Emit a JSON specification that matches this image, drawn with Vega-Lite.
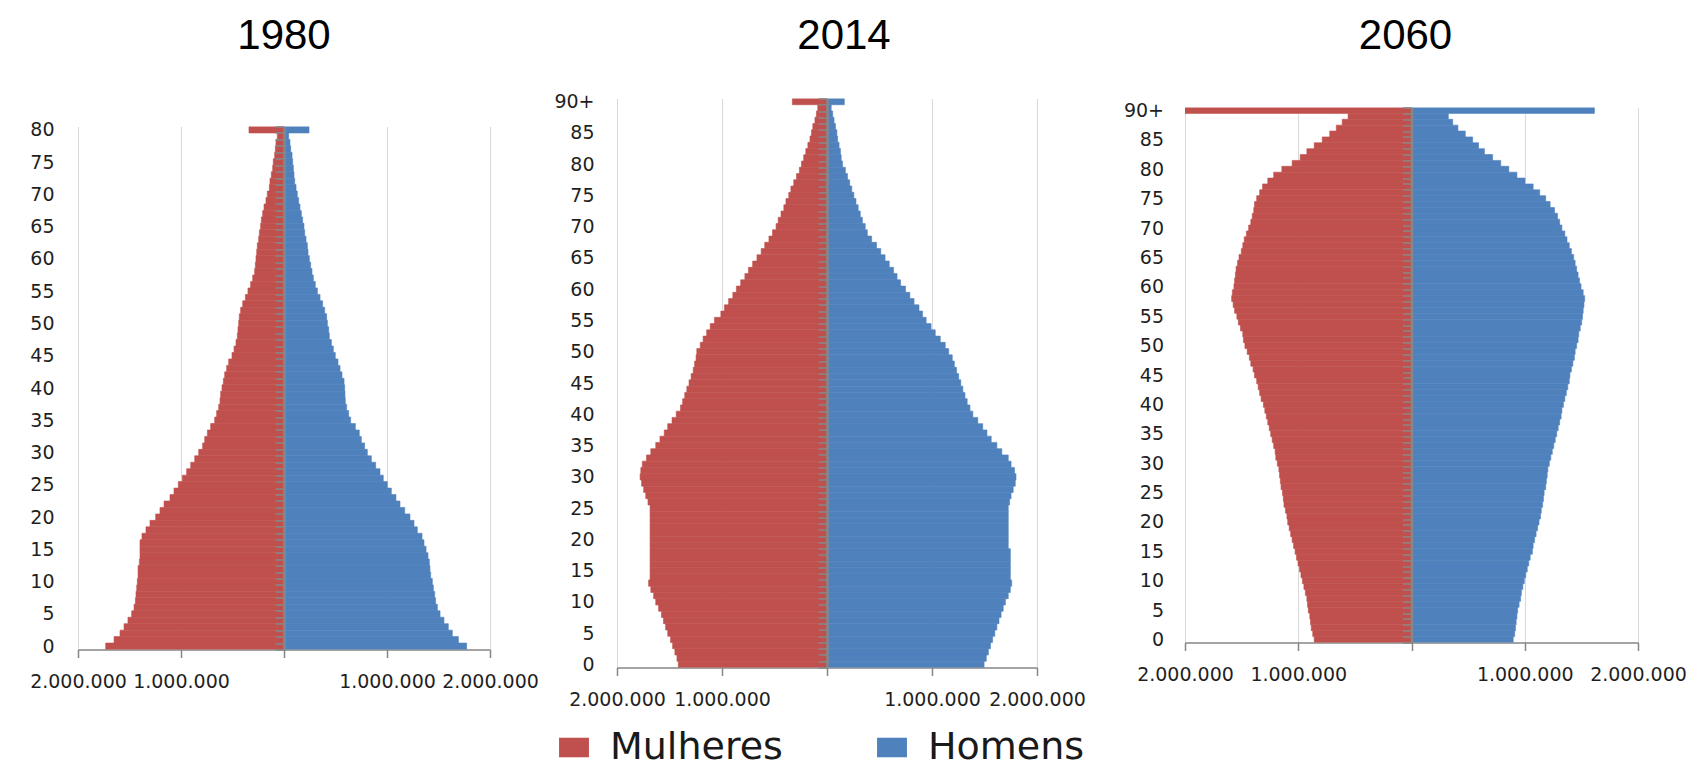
{
  "$schema": "https://vega.github.io/schema/vega-lite/v6.json",
  "background": "white",
  "padding": {"left": 29, "top": 14.5, "right": 0, "bottom": 0},
  "autosize": {"type": "pad"},
  "config": {
    "view": {"stroke": null},
    "axis": {"labelFont": "DejaVu Sans", "labelFontSize": 19, "labelColor": "#1f1f1f", "title": null},
    "title": {"font": "Liberation Sans", "fontSize": 42, "fontWeight": "normal", "color": "#000000", "anchor": "middle", "frame": "group", "baseline": "alphabetic", "offset": 7},
    "locale": {"number": {"decimal": ",", "thousands": ".", "grouping": [3], "currency": ["R$", ""]}}
  },
  "data": {"values": [
    {"year":1980,"age":0,"Mulheres":-1731000,"Homens":1773000},
    {"year":1980,"age":1,"Mulheres":-1650000,"Homens":1693000},
    {"year":1980,"age":2,"Mulheres":-1592000,"Homens":1634000},
    {"year":1980,"age":3,"Mulheres":-1553000,"Homens":1595000},
    {"year":1980,"age":4,"Mulheres":-1515000,"Homens":1553000},
    {"year":1980,"age":5,"Mulheres":-1479000,"Homens":1515000},
    {"year":1980,"age":6,"Mulheres":-1456000,"Homens":1489000},
    {"year":1980,"age":7,"Mulheres":-1443000,"Homens":1472000},
    {"year":1980,"age":8,"Mulheres":-1437000,"Homens":1463000},
    {"year":1980,"age":9,"Mulheres":-1430000,"Homens":1450000},
    {"year":1980,"age":10,"Mulheres":-1424000,"Homens":1440000},
    {"year":1980,"age":11,"Mulheres":-1417000,"Homens":1424000},
    {"year":1980,"age":12,"Mulheres":-1417000,"Homens":1417000},
    {"year":1980,"age":13,"Mulheres":-1404000,"Homens":1411000},
    {"year":1980,"age":14,"Mulheres":-1398000,"Homens":1398000},
    {"year":1980,"age":15,"Mulheres":-1398000,"Homens":1379000},
    {"year":1980,"age":16,"Mulheres":-1398000,"Homens":1359000},
    {"year":1980,"age":17,"Mulheres":-1379000,"Homens":1340000},
    {"year":1980,"age":18,"Mulheres":-1340000,"Homens":1294000},
    {"year":1980,"age":19,"Mulheres":-1301000,"Homens":1262000},
    {"year":1980,"age":20,"Mulheres":-1246000,"Homens":1223000},
    {"year":1980,"age":21,"Mulheres":-1204000,"Homens":1172000},
    {"year":1980,"age":22,"Mulheres":-1165000,"Homens":1126000},
    {"year":1980,"age":23,"Mulheres":-1107000,"Homens":1087000},
    {"year":1980,"age":24,"Mulheres":-1068000,"Homens":1042000},
    {"year":1980,"age":25,"Mulheres":-1026000,"Homens":1003000},
    {"year":1980,"age":26,"Mulheres":-987000,"Homens":964000},
    {"year":1980,"age":27,"Mulheres":-945000,"Homens":932000},
    {"year":1980,"age":28,"Mulheres":-906000,"Homens":890000},
    {"year":1980,"age":29,"Mulheres":-867000,"Homens":848000},
    {"year":1980,"age":30,"Mulheres":-828000,"Homens":809000},
    {"year":1980,"age":31,"Mulheres":-790000,"Homens":783000},
    {"year":1980,"age":32,"Mulheres":-770000,"Homens":751000},
    {"year":1980,"age":33,"Mulheres":-744000,"Homens":731000},
    {"year":1980,"age":34,"Mulheres":-712000,"Homens":693000},
    {"year":1980,"age":35,"Mulheres":-673000,"Homens":647000},
    {"year":1980,"age":36,"Mulheres":-654000,"Homens":628000},
    {"year":1980,"age":37,"Mulheres":-634000,"Homens":608000},
    {"year":1980,"age":38,"Mulheres":-621000,"Homens":595000},
    {"year":1980,"age":39,"Mulheres":-615000,"Homens":592000},
    {"year":1980,"age":40,"Mulheres":-602000,"Homens":589000},
    {"year":1980,"age":41,"Mulheres":-589000,"Homens":583000},
    {"year":1980,"age":42,"Mulheres":-576000,"Homens":563000},
    {"year":1980,"age":43,"Mulheres":-557000,"Homens":544000},
    {"year":1980,"age":44,"Mulheres":-537000,"Homens":524000},
    {"year":1980,"age":45,"Mulheres":-505000,"Homens":498000},
    {"year":1980,"age":46,"Mulheres":-485000,"Homens":479000},
    {"year":1980,"age":47,"Mulheres":-466000,"Homens":460000},
    {"year":1980,"age":48,"Mulheres":-453000,"Homens":440000},
    {"year":1980,"age":49,"Mulheres":-447000,"Homens":434000},
    {"year":1980,"age":50,"Mulheres":-440000,"Homens":421000},
    {"year":1980,"age":51,"Mulheres":-434000,"Homens":414000},
    {"year":1980,"age":52,"Mulheres":-421000,"Homens":395000},
    {"year":1980,"age":53,"Mulheres":-401000,"Homens":375000},
    {"year":1980,"age":54,"Mulheres":-375000,"Homens":350000},
    {"year":1980,"age":55,"Mulheres":-350000,"Homens":324000},
    {"year":1980,"age":56,"Mulheres":-324000,"Homens":304000},
    {"year":1980,"age":57,"Mulheres":-304000,"Homens":285000},
    {"year":1980,"age":58,"Mulheres":-285000,"Homens":272000},
    {"year":1980,"age":59,"Mulheres":-278000,"Homens":259000},
    {"year":1980,"age":60,"Mulheres":-272000,"Homens":246000},
    {"year":1980,"age":61,"Mulheres":-265000,"Homens":233000},
    {"year":1980,"age":62,"Mulheres":-259000,"Homens":227000},
    {"year":1980,"age":63,"Mulheres":-246000,"Homens":214000},
    {"year":1980,"age":64,"Mulheres":-239000,"Homens":201000},
    {"year":1980,"age":65,"Mulheres":-227000,"Homens":194000},
    {"year":1980,"age":66,"Mulheres":-220000,"Homens":181000},
    {"year":1980,"age":67,"Mulheres":-207000,"Homens":168000},
    {"year":1980,"age":68,"Mulheres":-194000,"Homens":155000},
    {"year":1980,"age":69,"Mulheres":-175000,"Homens":142000},
    {"year":1980,"age":70,"Mulheres":-162000,"Homens":129000},
    {"year":1980,"age":71,"Mulheres":-142000,"Homens":117000},
    {"year":1980,"age":72,"Mulheres":-136000,"Homens":104000},
    {"year":1980,"age":73,"Mulheres":-123000,"Homens":97000},
    {"year":1980,"age":74,"Mulheres":-110000,"Homens":91000},
    {"year":1980,"age":75,"Mulheres":-104000,"Homens":84000},
    {"year":1980,"age":76,"Mulheres":-91000,"Homens":78000},
    {"year":1980,"age":77,"Mulheres":-84000,"Homens":65000},
    {"year":1980,"age":78,"Mulheres":-78000,"Homens":58000},
    {"year":1980,"age":79,"Mulheres":-65000,"Homens":45000},
    {"year":1980,"age":80,"Mulheres":-340000,"Homens":243000},
    {"year":2014,"age":0,"Mulheres":-1416000,"Homens":1496000},
    {"year":2014,"age":1,"Mulheres":-1429000,"Homens":1517000},
    {"year":2014,"age":2,"Mulheres":-1449000,"Homens":1537000},
    {"year":2014,"age":3,"Mulheres":-1470000,"Homens":1557000},
    {"year":2014,"age":4,"Mulheres":-1490000,"Homens":1577000},
    {"year":2014,"age":5,"Mulheres":-1517000,"Homens":1598000},
    {"year":2014,"age":6,"Mulheres":-1537000,"Homens":1618000},
    {"year":2014,"age":7,"Mulheres":-1557000,"Homens":1638000},
    {"year":2014,"age":8,"Mulheres":-1577000,"Homens":1658000},
    {"year":2014,"age":9,"Mulheres":-1604000,"Homens":1678000},
    {"year":2014,"age":10,"Mulheres":-1631000,"Homens":1699000},
    {"year":2014,"age":11,"Mulheres":-1651000,"Homens":1726000},
    {"year":2014,"age":12,"Mulheres":-1678000,"Homens":1746000},
    {"year":2014,"age":13,"Mulheres":-1699000,"Homens":1759000},
    {"year":2014,"age":14,"Mulheres":-1685000,"Homens":1746000},
    {"year":2014,"age":15,"Mulheres":-1685000,"Homens":1746000},
    {"year":2014,"age":16,"Mulheres":-1685000,"Homens":1746000},
    {"year":2014,"age":17,"Mulheres":-1685000,"Homens":1746000},
    {"year":2014,"age":18,"Mulheres":-1685000,"Homens":1746000},
    {"year":2014,"age":19,"Mulheres":-1685000,"Homens":1726000},
    {"year":2014,"age":20,"Mulheres":-1685000,"Homens":1726000},
    {"year":2014,"age":21,"Mulheres":-1685000,"Homens":1726000},
    {"year":2014,"age":22,"Mulheres":-1685000,"Homens":1726000},
    {"year":2014,"age":23,"Mulheres":-1685000,"Homens":1726000},
    {"year":2014,"age":24,"Mulheres":-1685000,"Homens":1726000},
    {"year":2014,"age":25,"Mulheres":-1685000,"Homens":1726000},
    {"year":2014,"age":26,"Mulheres":-1705000,"Homens":1739000},
    {"year":2014,"age":27,"Mulheres":-1726000,"Homens":1753000},
    {"year":2014,"age":28,"Mulheres":-1746000,"Homens":1773000},
    {"year":2014,"age":29,"Mulheres":-1766000,"Homens":1793000},
    {"year":2014,"age":30,"Mulheres":-1780000,"Homens":1800000},
    {"year":2014,"age":31,"Mulheres":-1773000,"Homens":1786000},
    {"year":2014,"age":32,"Mulheres":-1759000,"Homens":1753000},
    {"year":2014,"age":33,"Mulheres":-1719000,"Homens":1726000},
    {"year":2014,"age":34,"Mulheres":-1678000,"Homens":1665000},
    {"year":2014,"age":35,"Mulheres":-1631000,"Homens":1618000},
    {"year":2014,"age":36,"Mulheres":-1591000,"Homens":1564000},
    {"year":2014,"age":37,"Mulheres":-1550000,"Homens":1523000},
    {"year":2014,"age":38,"Mulheres":-1517000,"Homens":1483000},
    {"year":2014,"age":39,"Mulheres":-1476000,"Homens":1436000},
    {"year":2014,"age":40,"Mulheres":-1436000,"Homens":1389000},
    {"year":2014,"age":41,"Mulheres":-1395000,"Homens":1362000},
    {"year":2014,"age":42,"Mulheres":-1375000,"Homens":1335000},
    {"year":2014,"age":43,"Mulheres":-1355000,"Homens":1314000},
    {"year":2014,"age":44,"Mulheres":-1335000,"Homens":1294000},
    {"year":2014,"age":45,"Mulheres":-1314000,"Homens":1274000},
    {"year":2014,"age":46,"Mulheres":-1294000,"Homens":1254000},
    {"year":2014,"age":47,"Mulheres":-1274000,"Homens":1234000},
    {"year":2014,"age":48,"Mulheres":-1261000,"Homens":1213000},
    {"year":2014,"age":49,"Mulheres":-1247000,"Homens":1193000},
    {"year":2014,"age":50,"Mulheres":-1240000,"Homens":1159000},
    {"year":2014,"age":51,"Mulheres":-1207000,"Homens":1126000},
    {"year":2014,"age":52,"Mulheres":-1180000,"Homens":1079000},
    {"year":2014,"age":53,"Mulheres":-1146000,"Homens":1031000},
    {"year":2014,"age":54,"Mulheres":-1112000,"Homens":991000},
    {"year":2014,"age":55,"Mulheres":-1072000,"Homens":944000},
    {"year":2014,"age":56,"Mulheres":-1011000,"Homens":910000},
    {"year":2014,"age":57,"Mulheres":-977000,"Homens":876000},
    {"year":2014,"age":58,"Mulheres":-937000,"Homens":829000},
    {"year":2014,"age":59,"Mulheres":-897000,"Homens":789000},
    {"year":2014,"age":60,"Mulheres":-863000,"Homens":748000},
    {"year":2014,"age":61,"Mulheres":-822000,"Homens":701000},
    {"year":2014,"age":62,"Mulheres":-782000,"Homens":667000},
    {"year":2014,"age":63,"Mulheres":-748000,"Homens":634000},
    {"year":2014,"age":64,"Mulheres":-708000,"Homens":593000},
    {"year":2014,"age":65,"Mulheres":-667000,"Homens":553000},
    {"year":2014,"age":66,"Mulheres":-627000,"Homens":512000},
    {"year":2014,"age":67,"Mulheres":-593000,"Homens":472000},
    {"year":2014,"age":68,"Mulheres":-553000,"Homens":425000},
    {"year":2014,"age":69,"Mulheres":-519000,"Homens":384000},
    {"year":2014,"age":70,"Mulheres":-485000,"Homens":364000},
    {"year":2014,"age":71,"Mulheres":-465000,"Homens":337000},
    {"year":2014,"age":72,"Mulheres":-438000,"Homens":317000},
    {"year":2014,"age":73,"Mulheres":-411000,"Homens":297000},
    {"year":2014,"age":74,"Mulheres":-391000,"Homens":276000},
    {"year":2014,"age":75,"Mulheres":-364000,"Homens":256000},
    {"year":2014,"age":76,"Mulheres":-344000,"Homens":236000},
    {"year":2014,"age":77,"Mulheres":-317000,"Homens":216000},
    {"year":2014,"age":78,"Mulheres":-290000,"Homens":195000},
    {"year":2014,"age":79,"Mulheres":-263000,"Homens":175000},
    {"year":2014,"age":80,"Mulheres":-243000,"Homens":148000},
    {"year":2014,"age":81,"Mulheres":-222000,"Homens":135000},
    {"year":2014,"age":82,"Mulheres":-202000,"Homens":128000},
    {"year":2014,"age":83,"Mulheres":-182000,"Homens":115000},
    {"year":2014,"age":84,"Mulheres":-162000,"Homens":101000},
    {"year":2014,"age":85,"Mulheres":-148000,"Homens":94000},
    {"year":2014,"age":86,"Mulheres":-135000,"Homens":81000},
    {"year":2014,"age":87,"Mulheres":-115000,"Homens":67000},
    {"year":2014,"age":88,"Mulheres":-101000,"Homens":54000},
    {"year":2014,"age":89,"Mulheres":-88000,"Homens":40000},
    {"year":2014,"age":90,"Mulheres":-330000,"Homens":165000},
    {"year":2060,"age":0,"Mulheres":-859000,"Homens":898000},
    {"year":2060,"age":1,"Mulheres":-872000,"Homens":911000},
    {"year":2060,"age":2,"Mulheres":-885000,"Homens":918000},
    {"year":2060,"age":3,"Mulheres":-892000,"Homens":924000},
    {"year":2060,"age":4,"Mulheres":-898000,"Homens":931000},
    {"year":2060,"age":5,"Mulheres":-911000,"Homens":937000},
    {"year":2060,"age":6,"Mulheres":-918000,"Homens":950000},
    {"year":2060,"age":7,"Mulheres":-924000,"Homens":963000},
    {"year":2060,"age":8,"Mulheres":-937000,"Homens":970000},
    {"year":2060,"age":9,"Mulheres":-950000,"Homens":983000},
    {"year":2060,"age":10,"Mulheres":-963000,"Homens":996000},
    {"year":2060,"age":11,"Mulheres":-976000,"Homens":1009000},
    {"year":2060,"age":12,"Mulheres":-989000,"Homens":1022000},
    {"year":2060,"age":13,"Mulheres":-1002000,"Homens":1035000},
    {"year":2060,"age":14,"Mulheres":-1015000,"Homens":1048000},
    {"year":2060,"age":15,"Mulheres":-1028000,"Homens":1067000},
    {"year":2060,"age":16,"Mulheres":-1041000,"Homens":1074000},
    {"year":2060,"age":17,"Mulheres":-1054000,"Homens":1087000},
    {"year":2060,"age":18,"Mulheres":-1067000,"Homens":1100000},
    {"year":2060,"age":19,"Mulheres":-1080000,"Homens":1113000},
    {"year":2060,"age":20,"Mulheres":-1093000,"Homens":1126000},
    {"year":2060,"age":21,"Mulheres":-1100000,"Homens":1139000},
    {"year":2060,"age":22,"Mulheres":-1113000,"Homens":1146000},
    {"year":2060,"age":23,"Mulheres":-1126000,"Homens":1158000},
    {"year":2060,"age":24,"Mulheres":-1132000,"Homens":1165000},
    {"year":2060,"age":25,"Mulheres":-1139000,"Homens":1171000},
    {"year":2060,"age":26,"Mulheres":-1152000,"Homens":1185000},
    {"year":2060,"age":27,"Mulheres":-1158000,"Homens":1191000},
    {"year":2060,"age":28,"Mulheres":-1165000,"Homens":1198000},
    {"year":2060,"age":29,"Mulheres":-1171000,"Homens":1204000},
    {"year":2060,"age":30,"Mulheres":-1185000,"Homens":1217000},
    {"year":2060,"age":31,"Mulheres":-1198000,"Homens":1230000},
    {"year":2060,"age":32,"Mulheres":-1204000,"Homens":1243000},
    {"year":2060,"age":33,"Mulheres":-1217000,"Homens":1256000},
    {"year":2060,"age":34,"Mulheres":-1230000,"Homens":1269000},
    {"year":2060,"age":35,"Mulheres":-1243000,"Homens":1282000},
    {"year":2060,"age":36,"Mulheres":-1256000,"Homens":1295000},
    {"year":2060,"age":37,"Mulheres":-1269000,"Homens":1308000},
    {"year":2060,"age":38,"Mulheres":-1282000,"Homens":1321000},
    {"year":2060,"age":39,"Mulheres":-1295000,"Homens":1328000},
    {"year":2060,"age":40,"Mulheres":-1308000,"Homens":1341000},
    {"year":2060,"age":41,"Mulheres":-1328000,"Homens":1354000},
    {"year":2060,"age":42,"Mulheres":-1341000,"Homens":1367000},
    {"year":2060,"age":43,"Mulheres":-1354000,"Homens":1380000},
    {"year":2060,"age":44,"Mulheres":-1367000,"Homens":1393000},
    {"year":2060,"age":45,"Mulheres":-1386000,"Homens":1399000},
    {"year":2060,"age":46,"Mulheres":-1399000,"Homens":1412000},
    {"year":2060,"age":47,"Mulheres":-1419000,"Homens":1425000},
    {"year":2060,"age":48,"Mulheres":-1432000,"Homens":1438000},
    {"year":2060,"age":49,"Mulheres":-1451000,"Homens":1445000},
    {"year":2060,"age":50,"Mulheres":-1471000,"Homens":1458000},
    {"year":2060,"age":51,"Mulheres":-1484000,"Homens":1471000},
    {"year":2060,"age":52,"Mulheres":-1490000,"Homens":1477000},
    {"year":2060,"age":53,"Mulheres":-1510000,"Homens":1490000},
    {"year":2060,"age":54,"Mulheres":-1529000,"Homens":1503000},
    {"year":2060,"age":55,"Mulheres":-1542000,"Homens":1510000},
    {"year":2060,"age":56,"Mulheres":-1562000,"Homens":1516000},
    {"year":2060,"age":57,"Mulheres":-1575000,"Homens":1523000},
    {"year":2060,"age":58,"Mulheres":-1588000,"Homens":1529000},
    {"year":2060,"age":59,"Mulheres":-1582000,"Homens":1516000},
    {"year":2060,"age":60,"Mulheres":-1568000,"Homens":1497000},
    {"year":2060,"age":61,"Mulheres":-1562000,"Homens":1484000},
    {"year":2060,"age":62,"Mulheres":-1555000,"Homens":1471000},
    {"year":2060,"age":63,"Mulheres":-1549000,"Homens":1458000},
    {"year":2060,"age":64,"Mulheres":-1536000,"Homens":1445000},
    {"year":2060,"age":65,"Mulheres":-1523000,"Homens":1432000},
    {"year":2060,"age":66,"Mulheres":-1503000,"Homens":1412000},
    {"year":2060,"age":67,"Mulheres":-1490000,"Homens":1393000},
    {"year":2060,"age":68,"Mulheres":-1477000,"Homens":1373000},
    {"year":2060,"age":69,"Mulheres":-1458000,"Homens":1354000},
    {"year":2060,"age":70,"Mulheres":-1438000,"Homens":1328000},
    {"year":2060,"age":71,"Mulheres":-1419000,"Homens":1308000},
    {"year":2060,"age":72,"Mulheres":-1406000,"Homens":1289000},
    {"year":2060,"age":73,"Mulheres":-1393000,"Homens":1263000},
    {"year":2060,"age":74,"Mulheres":-1386000,"Homens":1224000},
    {"year":2060,"age":75,"Mulheres":-1367000,"Homens":1185000},
    {"year":2060,"age":76,"Mulheres":-1341000,"Homens":1132000},
    {"year":2060,"age":77,"Mulheres":-1315000,"Homens":1074000},
    {"year":2060,"age":78,"Mulheres":-1269000,"Homens":1002000},
    {"year":2060,"age":79,"Mulheres":-1217000,"Homens":931000},
    {"year":2060,"age":80,"Mulheres":-1145000,"Homens":859000},
    {"year":2060,"age":81,"Mulheres":-1054000,"Homens":788000},
    {"year":2060,"age":82,"Mulheres":-983000,"Homens":716000},
    {"year":2060,"age":83,"Mulheres":-924000,"Homens":644000},
    {"year":2060,"age":84,"Mulheres":-859000,"Homens":592000},
    {"year":2060,"age":85,"Mulheres":-788000,"Homens":540000},
    {"year":2060,"age":86,"Mulheres":-722000,"Homens":475000},
    {"year":2060,"age":87,"Mulheres":-664000,"Homens":410000},
    {"year":2060,"age":88,"Mulheres":-612000,"Homens":364000},
    {"year":2060,"age":89,"Mulheres":-560000,"Homens":325000},
    {"year":2060,"age":90,"Mulheres":-2000000,"Homens":1615000}
  ]},
  "transform": [{"fold": ["Mulheres", "Homens"], "as": ["sex", "pop"]}],
  "resolve": {"scale": {"x": "independent", "y": "independent", "color": "shared", "stroke": "shared"}},
  "spacing": 37,
  "hconcat": [
    {
      "spacing": 14,
      "resolve": {"scale": {"x": "independent", "y": "independent", "color": "shared", "stroke": "shared"}},
      "hconcat": [
        {
          "bounds": "flush",
          "spacing": 61,
          "resolve": {"scale": {"x": "independent", "y": "independent", "color": "shared", "stroke": "shared"}},
          "vconcat": [
            {
              "width": 412, "height": 1,
              "title": {"text": "1980", "dx": 0},
              "transform": [{"filter": "datum.year == 0"}],
              "mark": "point"
            },
            {
              "width": 412, "height": 523,
              "transform": [{"filter": "datum.year == 1980"}],
              "mark": {"type": "bar", "clip": true, "strokeWidth": 0.6},
              "encoding": {
                "y": {"field": "age", "type": "ordinal", "sort": "descending",
                  "scale": {"paddingInner": 0, "paddingOuter": 0},
                  "axis": {"orient": "left", "offset": -206, "tickBand": "extent", "labelPadding": 221,
                    "labelExpr": "datum.value % 5 == 0 ? datum.label : ''", "labelOverlap": false,
                    "tickSize": 9, "tickWidth": 1.5, "tickColor": "#878787", "domainColor": "#878787", "domainWidth": 2.5, "zindex": 2, "grid": false}},
                "x": {"field": "pop", "type": "quantitative", "stack": null,
                  "scale": {"domain": [-2000000, 2000000], "nice": false},
                  "axis": {"values": [-2000000, -1000000, 0, 1000000, 2000000],
                    "labelExpr": "datum.value == 0 ? '' : replace(format(abs(datum.value), ','), regexp(',', 'g'), '.')",
                    "grid": true, "gridColor": "#d9d9d9", "gridWidth": 1, "domainColor": "#868686", "domainWidth": 1.5,
                    "tickColor": "#868686", "tickSize": 8, "tickWidth": 1.5, "labelPadding": 15, "labelOverlap": false, "labelFlush": false, "zindex": 0}},
                "stroke": {"field": "sex", "type": "nominal", "scale": {"domain": ["Mulheres", "Homens"], "range": ["#C0504D", "#4F81BD"]}, "legend": null},
                "color": {"field": "sex", "type": "nominal",
                  "scale": {"domain": ["Mulheres", "Homens"], "range": ["#C0504D", "#4F81BD"]},
                  "legend": {"orient": "none", "legendX": 477, "legendY": 664, "direction": "horizontal", "title": null,
                    "symbolType": "M-1.3,-0.85H1.3V0.85H-1.3Z", "symbolSize": 529, "symbolStrokeWidth": 0, "symbolOpacity": 1,
                    "labelFont": "DejaVu Sans", "labelFontSize": 38, "labelColor": "#1a1a1a", "labelOffset": 17,
                    "columnPadding": 90, "labelLimit": 500, "padding": 0}}
              }
            }
          ]
        },
        {
          "bounds": "flush",
          "spacing": 33,
          "resolve": {"scale": {"x": "independent", "y": "independent", "color": "shared", "stroke": "shared"}},
          "vconcat": [
            {
              "width": 420, "height": 1,
              "title": {"text": "2014", "dx": 17},
              "transform": [{"filter": "datum.year == 0"}],
              "mark": "point"
            },
            {
              "width": 420, "height": 569,
              "transform": [{"filter": "datum.year == 2014"}],
              "mark": {"type": "bar", "clip": true, "strokeWidth": 0.6},
              "encoding": {
                "y": {"field": "age", "type": "ordinal", "sort": "descending",
                  "scale": {"paddingInner": 0, "paddingOuter": 0},
                  "axis": {"orient": "left", "offset": -210, "tickBand": "extent", "labelPadding": 224,
                    "labelExpr": "datum.value == 90 ? '90+' : (datum.value % 5 == 0 ? datum.label : '')", "labelOverlap": false,
                    "tickSize": 9, "tickWidth": 1.5, "tickColor": "#878787", "domainColor": "#878787", "domainWidth": 2.5, "zindex": 2, "grid": false}},
                "x": {"field": "pop", "type": "quantitative", "stack": null,
                  "scale": {"domain": [-2000000, 2000000], "nice": false},
                  "axis": {"values": [-2000000, -1000000, 0, 1000000, 2000000],
                    "labelExpr": "datum.value == 0 ? '' : replace(format(abs(datum.value), ','), regexp(',', 'g'), '.')",
                    "grid": true, "gridColor": "#d9d9d9", "gridWidth": 1, "domainColor": "#868686", "domainWidth": 1.5,
                    "tickColor": "#868686", "tickSize": 8, "tickWidth": 1.5, "labelPadding": 15, "labelOverlap": false, "labelFlush": false, "zindex": 0}},
                "stroke": {"field": "sex", "type": "nominal", "scale": {"domain": ["Mulheres", "Homens"], "range": ["#C0504D", "#4F81BD"]}, "legend": null},
                "color": {"field": "sex", "type": "nominal",
                  "scale": {"domain": ["Mulheres", "Homens"], "range": ["#C0504D", "#4F81BD"]},
                  "legend": {"orient": "none", "legendX": 477, "legendY": 664, "direction": "horizontal", "title": null,
                    "symbolType": "M-1.3,-0.85H1.3V0.85H-1.3Z", "symbolSize": 529, "symbolStrokeWidth": 0, "symbolOpacity": 1,
                    "labelFont": "DejaVu Sans", "labelFontSize": 38, "labelColor": "#1a1a1a", "labelOffset": 17,
                    "columnPadding": 90, "labelLimit": 500, "padding": 0}}
              }
            }
          ]
        }
      ]
    },
    {
      "bounds": "flush",
      "spacing": 42,
      "resolve": {"scale": {"x": "independent", "y": "independent", "color": "shared", "stroke": "shared"}},
      "vconcat": [
        {
          "width": 453, "height": 1,
          "title": {"text": "2060", "dx": -6},
          "transform": [{"filter": "datum.year == 0"}],
          "mark": "point"
        },
        {
          "width": 453, "height": 535,
          "transform": [{"filter": "datum.year == 2060"}],
          "mark": {"type": "bar", "clip": true, "strokeWidth": 0.6},
          "encoding": {
            "y": {"field": "age", "type": "ordinal", "sort": "descending",
              "scale": {"paddingInner": 0, "paddingOuter": 0},
              "axis": {"orient": "left", "offset": -226.5, "tickBand": "extent", "labelPadding": 239,
                "labelExpr": "datum.value == 90 ? '90+' : (datum.value % 5 == 0 ? datum.label : '')", "labelOverlap": false,
                "tickSize": 9, "tickWidth": 1.5, "tickColor": "#878787", "domainColor": "#878787", "domainWidth": 2.5, "zindex": 2, "grid": false}},
            "x": {"field": "pop", "type": "quantitative", "stack": null,
              "scale": {"domain": [-2000000, 2000000], "nice": false},
              "axis": {"values": [-2000000, -1000000, 0, 1000000, 2000000],
                "labelExpr": "datum.value == 0 ? '' : replace(format(abs(datum.value), ','), regexp(',', 'g'), '.')",
                "grid": true, "gridColor": "#d9d9d9", "gridWidth": 1, "domainColor": "#868686", "domainWidth": 1.5,
                "tickColor": "#868686", "tickSize": 8, "tickWidth": 1.5, "labelPadding": 15, "labelOverlap": false, "labelFlush": false, "zindex": 0}},
            "stroke": {"field": "sex", "type": "nominal", "scale": {"domain": ["Mulheres", "Homens"], "range": ["#C0504D", "#4F81BD"]}, "legend": null},
            "color": {"field": "sex", "type": "nominal",
              "scale": {"domain": ["Mulheres", "Homens"], "range": ["#C0504D", "#4F81BD"]},
              "legend": {"orient": "none", "legendX": 477, "legendY": 664, "direction": "horizontal", "title": null,
                "symbolType": "M-1.3,-0.85H1.3V0.85H-1.3Z", "symbolSize": 529, "symbolStrokeWidth": 0, "symbolOpacity": 1,
                "labelFont": "DejaVu Sans", "labelFontSize": 38, "labelColor": "#1a1a1a", "labelOffset": 17,
                "columnPadding": 90, "labelLimit": 500, "padding": 0}}
          }
        }
      ]
    }
  ]
}
